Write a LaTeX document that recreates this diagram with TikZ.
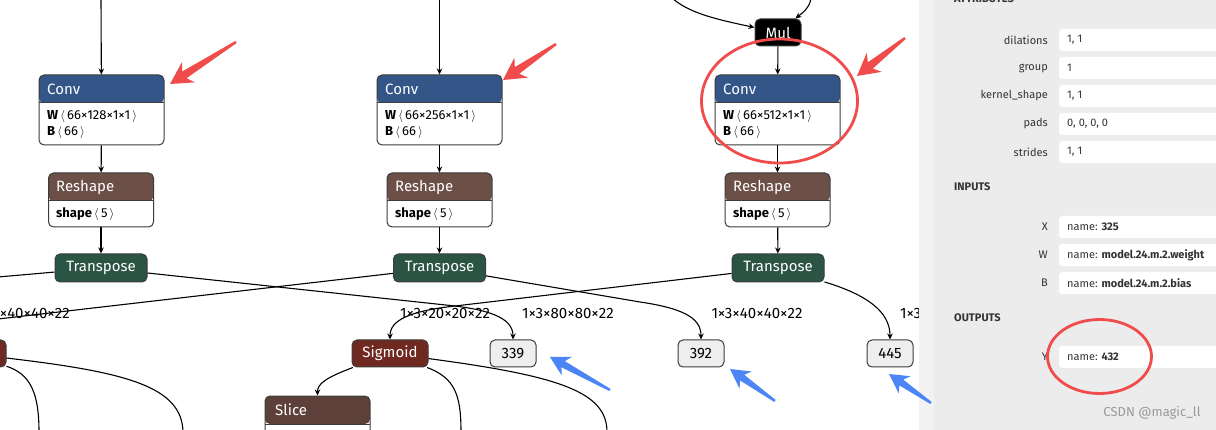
\documentclass[tikz,border=0pt]{standalone}
\usepackage{fontspec}
\setmainfont{Fira Sans}
\usetikzlibrary{arrows.meta,calc}
\definecolor{convc}{RGB}{51,85,136}
\definecolor{shapec}{RGB}{108,79,71}
\definecolor{transc}{RGB}{44,84,68}
\definecolor{sigc}{RGB}{112,41,33}
\definecolor{slicec}{RGB}{93,64,57}
\definecolor{bordc}{RGB}{60,60,60}
\definecolor{outc}{RGB}{238,238,238}
\definecolor{annred}{RGB}{240,76,76}
\definecolor{annblue}{RGB}{76,134,246}
\definecolor{panelbg}{RGB}{236,236,236}
\definecolor{panelstrip}{RGB}{242,242,242}
\definecolor{ptext}{RGB}{51,51,51}
\newcommand\annarrow[6]{%
 \coordinate (aT) at #2; \coordinate (aH) at #3;
 \coordinate (aB) at ($(aH)!#4!(aT)$);
 \coordinate (aC) at ($(aH)!#5!(aT)$);
 \fill[#1] ($(aT)!1.2pt!90:(aH)$) -- ($(aB)!#6!90:(aH)$) -- ($(aC)!#5*0.55!90:(aH)$) -- (aH)
   -- ($(aC)!#5*0.55!-90:(aH)$) -- ($(aB)!#6!-90:(aH)$) -- ($(aT)!1.2pt!-90:(aH)$) -- cycle;}
\newcommand\ang[1]{\,$\langle$\,#1\,$\rangle$}
\tikzset{
 box/.style={draw=bordc, line width=1pt, rounded corners=5pt, inner sep=0pt},
 opbox/.style={box, minimum height=28pt, text=white, font=\fontsize{15}{17}\selectfont},
 outbox/.style={box, fill=outc, minimum width=46pt, minimum height=27pt, font=\fontsize{15}{17}\selectfont},
 twobox/.style n args={3}{box, fill=white, minimum width=#2, minimum height=#3,
   path picture={\fill[#1] (path picture bounding box.north west) rectangle ([yshift=-28pt]path picture bounding box.north east);
     \draw[bordc, line width=1pt] ([yshift=-28pt]path picture bounding box.north west) -- ([yshift=-28pt]path picture bounding box.north east);}},
 htext/.style={anchor=west, text=white, inner sep=0pt, font=\fontsize{15}{17}\selectfont},
 btext/.style={anchor=west, text=black, inner sep=0pt, font=\fontsize{13}{15}\selectfont},
 edge/.style={-{Stealth[length=6pt,width=5.5pt]}, line width=1.1pt, black},
 plain/.style={line width=1.1pt, black},
 elabel/.style={inner sep=0pt, font=\fontsize{15}{17}\selectfont},
 plabel/.style={anchor=east, inner sep=0pt, text=ptext, font=\fontsize{11}{13}\selectfont},
 pval/.style={anchor=west, inner sep=0pt, text=ptext, font=\fontsize{11}{13}\selectfont},
 phead/.style={anchor=west, inner sep=0pt, text=ptext, font=\bfseries\fontsize{11}{13}\selectfont},
 valbox/.style={fill=white, rounded corners=3pt},
}
\begin{document}
\begin{tikzpicture}[x=1pt,y=-1pt]
\useasboundingbox (0,0) rectangle (1216,430);
\begin{scope}
\clip (0,0) rectangle (919,430);
\fill[white] (0,0) rectangle (919,430);
% ---- column 1
\node[twobox={convc}{125pt}{70pt}] (c1) at (101.5,110) {};
\node[htext] (c1t) at (47,89) {Conv};
\node[btext] (c1w) at (47,116) {\textbf{W}\ang{66×128×1×1}};
\node[btext] (c1b) at (47,132) {\textbf{B}\ang{66}};
\node[twobox={shapec}{105pt}{54pt}] (r1) at (101,200) {};
\node[htext] (r1t) at (56,187) {Reshape};
\node[btext] (r1s) at (56,214) {\textbf{shape}\ang{5}};
\node[opbox, fill=transc, minimum width=92pt] (t1) at (101,268) {Transpose};
% ---- column 2
\node[twobox={convc}{125pt}{70pt}] (c2) at (439.5,110) {};
\node[htext] (c2t) at (385,89) {Conv};
\node[btext] (c2w) at (385,116) {\textbf{W}\ang{66×256×1×1}};
\node[btext] (c2b) at (385,132) {\textbf{B}\ang{66}};
\node[twobox={shapec}{105pt}{54pt}] (r2) at (439.5,200) {};
\node[htext] (r2t) at (395,187) {Reshape};
\node[btext] (r2s) at (395,214) {\textbf{shape}\ang{5}};
\node[opbox, fill=transc, minimum width=92pt] (t2) at (439.5,268) {Transpose};
% ---- column 3
\node[opbox, fill=black, minimum width=46pt, minimum height=27pt] (mul) at (778,32.5) {Mul};
\node[twobox={convc}{125pt}{70pt}] (c3) at (777.5,110) {};
\node[htext] (c3t) at (723,89) {Conv};
\node[btext] (c3w) at (723,116) {\textbf{W}\ang{66×512×1×1}};
\node[btext] (c3b) at (723,132) {\textbf{B}\ang{66}};
\node[twobox={shapec}{105pt}{54pt}] (r3) at (777.5,200) {};
\node[htext] (r3t) at (733,187) {Reshape};
\node[btext] (r3s) at (733,214) {\textbf{shape}\ang{5}};
\node[opbox, fill=transc, minimum width=92pt] (t3) at (778,268) {Transpose};
% ---- lower row
\node[opbox, fill=sigc, minimum width=76pt, minimum height=27pt] (sigL) at (-32,353.5) {Sigmoid};
\node[opbox, fill=sigc, minimum width=76pt, minimum height=27pt] (sig) at (390,353.5) {Sigmoid};
\node[outbox] (o339) at (513,353.5) {339};
\node[outbox] (o392) at (701,353.5) {392};
\node[outbox] (o445) at (890,353.5) {445};
\node[twobox={slicec}{105pt}{54pt}] (sl) at (317.5,423) {};
\node[htext] (slt) at (275,410) {Slice};
% ---- free ends
\coordinate (in1) at (101,-2);
\coordinate (in2) at (439.5,-2);
\coordinate (m0) at (672,-2);
\coordinate (m1) at (811,-2);
\coordinate (w1) at (-2,277);
\coordinate (w2) at (-2,319);
\coordinate (x1) at (455,306);
\coordinate (e1) at (461,432);
\coordinate (e2) at (607,432);
\coordinate (e3) at (39,432);
\coordinate (e4) at (183,432);
% ---- edges
\draw[edge] (in1) -- (c1);
\draw[edge] (in2) -- (c2);
\draw[edge] (m0) .. controls (690,14) and (720,20) .. ($(mul.west)+(0,-5)$);
\draw[edge] (m1) .. controls (810,8) and (801,14) .. ($(mul.north east)+(-6,0)$);
\draw[edge] (mul) -- (c3);
\draw[edge] (c1) -- (r1);
\draw[edge] (c2) -- (r2);
\draw[edge] (c3) -- (r3);
\draw[edge] (r1) -- (t1);
\draw[edge] (r2) -- (t2);
\draw[edge] (r3) -- (t3);
\draw[plain] (t1) -- (w1);
\draw[plain] (t2) -- (w2);
\draw[edge] (t1) -- (x1) .. controls (495,311) and (513,320) .. (o339.north);
\draw[edge] (t3) -- (x1) .. controls (410,311) and (390,320) .. (sig.north);
\draw[edge] (t2) -- (640,302) .. controls (688,309) and (701,320) .. (o392.north);
\draw[edge] (t3) .. controls (878,298) and (890,318) .. (o445.north);
\draw[edge] (sig) .. controls (325,378) and (317.5,384) .. (sl.north);
\draw[plain] (sig) .. controls (455,378) and (461,395) .. (e1);
\draw[plain] (sig) .. controls (560,376) and (607,392) .. (e2);
\draw[plain] (sigL) .. controls (30,374) and (39,392) .. (e3);
\draw[plain] (sigL) .. controls (125,372) and (182,386) .. (e4);
% ---- edge labels
\node[elabel, anchor=east] (l1) at (70,313) {1×3×40×40×22};
\node[elabel] (l2) at (445,313) {1×3×20×20×22};
\node[elabel] (l3) at (568,313) {1×3×80×80×22};
\node[elabel] (l4) at (757,313) {1×3×40×40×22};
\node[elabel, anchor=west] (l5) at (900,313) {1×3};
\end{scope}
% ---- panel
\fill[panelstrip] (919,0) rectangle (934,430);
\fill[panelbg] (934,0) rectangle (1216,430);
\node[phead] (hA) at (954,-1) {ATTRIBUTES};
\foreach \y/\k/\v in {40/dilations/{1, 1},68/group/1,96/kernel\_shape/{1, 1},124/pads/{0, 0, 0, 0},152/strides/{1, 1}}{
  \fill[valbox] (1059,\y-11) rectangle (1230,\y+11);
  \node[plabel] at (1048,\y) {\k};
  \node[pval] at (1067,\y) {\v};
}
\node[phead] (hI) at (954,187) {INPUTS};
\foreach \y/\k/\v in {227/X/325,255/W/model.24.m.2.weight,283/B/model.24.m.2.bias,357/Y/432}{
  \fill[valbox] (1059,\y-11) rectangle (1230,\y+11);
  \node[plabel] at (1048,\y) {\k};
  \node[pval] at (1067,\y) {name: \textbf{\v}};
}
\node[phead] (hO) at (954,318) {OUTPUTS};
\node[inner sep=0pt, text=black!40, font=\fontsize{13}{15}\selectfont] (wm) at (1152,413) {CSDN @magic\_ll};
% ---- annotations
\annarrow{annred}{(236,42)}{(170,84)}{17pt}{22pt}{4pt}
\annarrow{annred}{(556,44)}{(503,80)}{17pt}{22pt}{4pt}
\annarrow{annred}{(905,38)}{(857,76)}{17pt}{22pt}{4pt}
\annarrow{annblue}{(610,390)}{(550,357)}{15pt}{19pt}{3.5pt}
\annarrow{annblue}{(775,401)}{(730,369)}{15pt}{19pt}{3.5pt}
\annarrow{annblue}{(931,403)}{(889,374)}{15pt}{19pt}{3.5pt}
\draw[annred, line width=2.8pt] (779.5,101) ellipse [x radius=78pt, y radius=62pt];
\draw[annred, line width=2.8pt] (1099.5,356.5) ellipse [x radius=52pt, y radius=37pt];
\end{tikzpicture}
\end{document}
